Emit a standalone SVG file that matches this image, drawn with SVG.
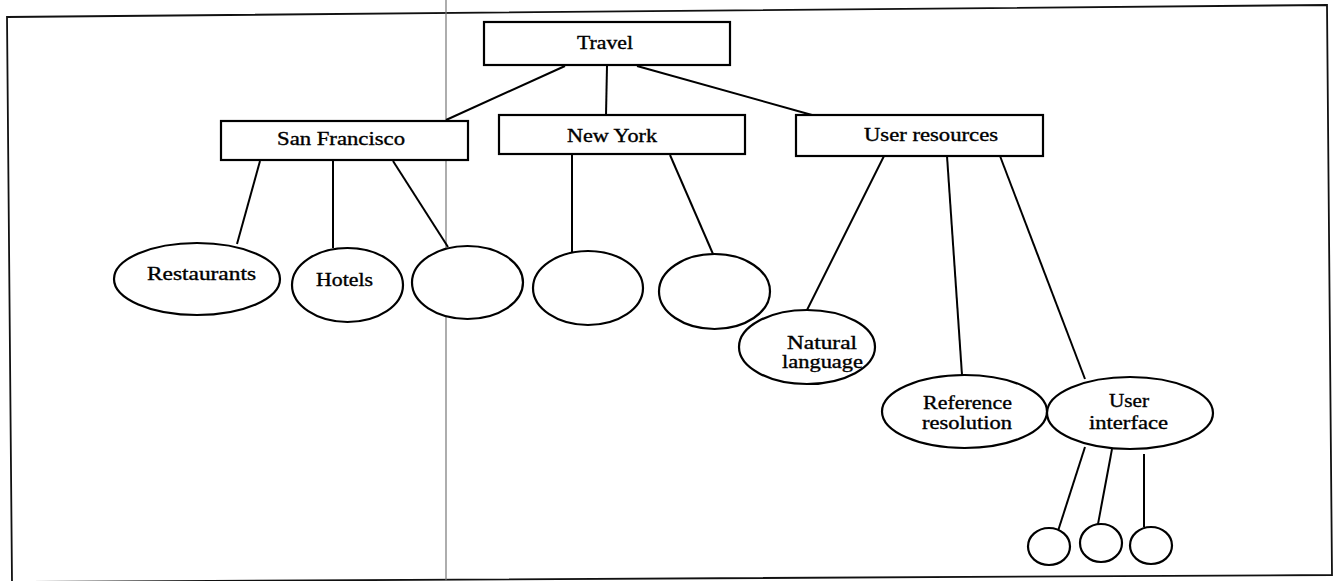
<svg xmlns="http://www.w3.org/2000/svg" width="1337" height="581" viewBox="0 0 1337 581">
  <style>
    .frame { fill: none; stroke: #111; stroke-width: 1.8; }
    .rule { stroke: #777; stroke-width: 1.2; }
    .box, .oval { fill: #fff; stroke: #000; stroke-width: 2.2; }
    .edge { stroke: #000; stroke-width: 2; fill: none; }
    text { font-family: "Liberation Serif", "DejaVu Serif", serif; font-size: 18px; fill: #000; stroke: #000; stroke-width: 0.35; }
  </style>
  <rect width="1337" height="581" fill="#fff"/>
  <!-- page frame and vertical rule -->
  <polygon class="frame" points="7,17 1327,5 1332,575 12,582"/>
  <line class="rule" x1="446" y1="0" x2="446" y2="581"/>

  <g id="connectors">
    <line class="edge" x1="565" y1="66" x2="446" y2="120"/>
    <line class="edge" x1="607" y1="66" x2="606" y2="115"/>
    <line class="edge" x1="637" y1="66" x2="812" y2="115"/>
    <line class="edge" x1="260" y1="161" x2="237" y2="244"/>
    <line class="edge" x1="333" y1="161" x2="333" y2="248"/>
    <line class="edge" x1="393" y1="161" x2="448" y2="247"/>
    <line class="edge" x1="572" y1="155" x2="572" y2="252"/>
    <line class="edge" x1="670" y1="155" x2="713" y2="254"/>
    <line class="edge" x1="884" y1="156" x2="807" y2="310"/>
    <line class="edge" x1="947" y1="156" x2="962" y2="375"/>
    <line class="edge" x1="1000" y1="156" x2="1085" y2="379"/>
    <line class="edge" x1="1085" y1="447" x2="1058" y2="531"/>
    <line class="edge" x1="1112" y1="449" x2="1098" y2="524"/>
    <line class="edge" x1="1144" y1="454" x2="1144" y2="527"/>
  </g>

  <g id="travel">
    <rect class="box" x="484" y="22" width="246" height="43"/>
    <text x="577" y="49" textLength="56" lengthAdjust="spacingAndGlyphs">Travel</text>
  </g>
  <g id="san-francisco">
    <rect class="box" x="221" y="121" width="247" height="39"/>
    <text x="277" y="145" textLength="128" lengthAdjust="spacingAndGlyphs">San Francisco</text>
  </g>
  <g id="new-york">
    <rect class="box" x="499" y="115" width="246" height="39"/>
    <text x="567" y="142" textLength="90" lengthAdjust="spacingAndGlyphs">New York</text>
  </g>
  <g id="user-resources">
    <rect class="box" x="796" y="115" width="247" height="41"/>
    <text x="864" y="141" textLength="134" lengthAdjust="spacingAndGlyphs">User resources</text>
  </g>

  <g id="restaurants">
    <ellipse class="oval" cx="197" cy="279" rx="83" ry="36"/>
    <text x="147" y="280" textLength="109" lengthAdjust="spacingAndGlyphs">Restaurants</text>
  </g>
  <g id="hotels">
    <ellipse class="oval" cx="347.5" cy="285" rx="55.5" ry="37"/>
    <text x="316" y="286" textLength="57" lengthAdjust="spacingAndGlyphs">Hotels</text>
  </g>
  <g id="sf-empty">
    <ellipse class="oval" cx="467.5" cy="282.5" rx="55.5" ry="36.5"/>
  </g>
  <g id="ny-empty-1">
    <ellipse class="oval" cx="588" cy="288" rx="55" ry="37"/>
  </g>
  <g id="ny-empty-2">
    <ellipse class="oval" cx="714.5" cy="291.5" rx="55.5" ry="37.5"/>
  </g>

  <g id="natural-language">
    <ellipse class="oval" cx="807" cy="347" rx="68" ry="37"/>
    <text x="787" y="349" textLength="70" lengthAdjust="spacingAndGlyphs">Natural</text>
    <text x="782" y="368" textLength="81" lengthAdjust="spacingAndGlyphs">language</text>
  </g>
  <g id="reference-resolution">
    <ellipse class="oval" cx="964.5" cy="411.5" rx="82.5" ry="36.5"/>
    <text x="923" y="409" textLength="89" lengthAdjust="spacingAndGlyphs">Reference</text>
    <text x="922" y="429" textLength="90" lengthAdjust="spacingAndGlyphs">resolution</text>
  </g>
  <g id="user-interface">
    <ellipse class="oval" cx="1130" cy="413" rx="83" ry="36"/>
    <text x="1109" y="407" textLength="40" lengthAdjust="spacingAndGlyphs">User</text>
    <text x="1089" y="429" textLength="79" lengthAdjust="spacingAndGlyphs">interface</text>
  </g>

  <g id="ui-leaf-1">
    <ellipse class="oval" cx="1049" cy="546.5" rx="21" ry="18.5"/>
  </g>
  <g id="ui-leaf-2">
    <ellipse class="oval" cx="1101" cy="543" rx="21" ry="19"/>
  </g>
  <g id="ui-leaf-3">
    <ellipse class="oval" cx="1151" cy="545.5" rx="21" ry="18.5"/>
  </g>
</svg>
